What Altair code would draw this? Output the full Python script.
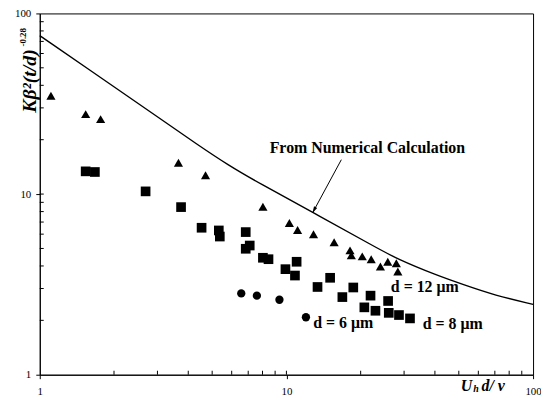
import altair as alt
import pandas as pd

# d = 12 um (triangles)
tri_x = [1.11, 1.535, 1.765, 3.65, 4.70, 8.03, 10.28, 11.1, 12.88, 15.61, 18.11, 18.33,
         20.3, 22.07, 24.05, 25.76, 27.9, 28.3]
tri_y = [35.0, 27.7, 26.0, 14.9, 12.7, 8.50, 6.92, 6.32, 5.99, 5.41, 4.88, 4.58,
         4.52, 4.36, 3.97, 4.22, 4.14, 3.73]
# d = 8 um (squares)
sq_x = [1.535, 1.673, 2.686, 3.74, 4.53, 5.32, 5.37, 6.84, 7.10, 6.84, 8.03, 8.46, 9.91,
        11.0, 10.83, 13.37, 15.04, 16.86, 18.67, 21.93, 20.7, 22.96, 25.84, 26.0, 28.6, 31.7]
sq_y = [13.36, 13.25, 10.35, 8.47, 6.51, 6.29, 5.82, 6.16, 5.19, 4.98, 4.44, 4.36, 3.84,
        4.22, 3.54, 3.06, 3.44, 2.69, 3.04, 2.74, 2.36, 2.26, 2.56, 2.20, 2.14, 2.05]
# d = 6 um (circles)
circ_x = [6.56, 7.59, 9.37, 12.0]
circ_y = [2.82, 2.74, 2.60, 2.08]
# numerical calculation curve
curve_x = [1, 2, 3, 4.39, 5.80, 7.66, 13.0, 22.7, 28.1, 40.7, 52.3, 70, 100]
curve_y = [75.3, 39.3, 26.8, 18.66, 14.49, 11.60, 7.83, 5.13, 4.37, 3.55, 3.15, 2.75, 2.45]

major_ticks = [1, 10, 100]
minor_ticks = [2, 3, 4, 5, 6, 7, 8, 9, 10, 20, 30, 40, 50, 60, 70, 80, 90]

# annotations (data coordinates)
ann_text = ["From Numerical Calculation", "d = 12 \u03bcm", "d = 8 \u03bcm", "d = 6 \u03bcm"]
ann_x = [21.3, 36.4, 47.2, 17.0]
ann_y = [17.97, 3.04, 1.907, 1.93]
arrow_x = [16.7]
arrow_y = [15.5]
arrow_x2 = [12.76]
arrow_y2 = [7.86]

W, H = 497, 364
FONT = "Liberation Serif"
LBL = "datum.value == 1 ? '1' : datum.value == 10 ? '10' : '100'"

xs = alt.Scale(type="log", domain=[1, 100], nice=False)
ys = alt.Scale(type="log", domain=[1, 100], nice=False)
xax = alt.Axis(values=major_ticks, labelExpr=LBL, title=None, grid=False, tickSize=4,
               labelPadding=7, labelFlush=False, domainColor="black", tickColor="black",
               labelColor="black", labelFont=FONT, labelFontSize=11)
yax = alt.Axis(values=major_ticks, labelExpr=LBL, title=None, grid=False, tickSize=4,
               labelPadding=5, labelFlush=False, domainColor="black", tickColor="black",
               labelColor="black", labelFont=FONT, labelFontSize=11)


def X(f="x"):
    return alt.X(f + ":Q", scale=xs, axis=xax)


def Y(f="y"):
    return alt.Y(f + ":Q", scale=ys, axis=yax)


curve = alt.Chart(pd.DataFrame({"x": curve_x, "y": curve_y})).mark_line(
    color="black", strokeWidth=1.4, interpolate="basis").encode(x=X(), y=Y())

tri = alt.Chart(pd.DataFrame({"x": tri_x, "y": tri_y})).mark_point(
    shape="triangle-up", filled=True, color="black", opacity=1, size=85).encode(x=X(), y=Y())
sq = alt.Chart(pd.DataFrame({"x": sq_x, "y": sq_y})).mark_point(
    shape="square", filled=True, color="black", opacity=1, size=95).encode(x=X(), y=Y())
circ = alt.Chart(pd.DataFrame({"x": circ_x, "y": circ_y})).mark_point(
    shape="circle", filled=True, color="black", opacity=1, size=70).encode(x=X(), y=Y())

xticks = alt.Chart(pd.DataFrame({"x": minor_ticks})).mark_rule(color="black", strokeWidth=1).encode(
    x=X(), y=alt.value(H), y2=alt.value(H - 4))
yticks = alt.Chart(pd.DataFrame({"y": minor_ticks})).mark_rule(color="black", strokeWidth=1).encode(
    y=Y(), x=alt.value(0), x2=alt.value(4))

ann = alt.Chart(pd.DataFrame({"x": ann_x, "y": ann_y, "t": ann_text})).mark_text(
    font=FONT, fontWeight="bold", fontSize=16, color="black", align="center", baseline="middle").encode(
    x=X(), y=Y(), text="t:N")

arrow = alt.Chart(pd.DataFrame({"x": arrow_x, "y": arrow_y, "x2": arrow_x2, "y2": arrow_y2})).mark_rule(
    color="black", strokeWidth=1).encode(x=X(), y=Y(), x2="x2:Q", y2="y2:Q")
head = alt.Chart(pd.DataFrame({"x": arrow_x2, "y": arrow_y2})).mark_point(
    shape="M0,0L-0.6,2.2L0.6,2.2Z", filled=True, color="black", opacity=1, size=36, angle=208).encode(
    x=X(), y=Y())

ytitle_main = alt.Chart(pd.DataFrame({"t": ["K\u03b2\u00b2(t/d)"]})).mark_text(
    font=FONT, fontStyle="italic", fontWeight="bold", fontSize=20, angle=270, color="black",
    align="center", baseline="middle").encode(text="t:N", x=alt.value(-10), y=alt.value(68))
ytitle_sup = alt.Chart(pd.DataFrame({"t": ["-0.28"]})).mark_text(
    font=FONT, fontWeight="bold", fontSize=9, angle=270, color="black",
    align="center", baseline="middle").encode(text="t:N", x=alt.value(-17), y=alt.value(24))

xt_u = alt.Chart(pd.DataFrame({"t": ["U"]})).mark_text(
    font=FONT, fontStyle="italic", fontWeight="bold", fontSize=16, color="black",
    align="center", baseline="middle").encode(text="t:N", x=alt.value(430), y=alt.value(375))
xt_h = alt.Chart(pd.DataFrame({"t": ["h"]})).mark_text(
    font=FONT, fontStyle="italic", fontWeight="bold", fontSize=10, color="black",
    align="center", baseline="middle").encode(text="t:N", x=alt.value(439.5), y=alt.value(378))
xt_d = alt.Chart(pd.DataFrame({"t": ["d/ \u03bd"]})).mark_text(
    font=FONT, fontStyle="italic", fontWeight="bold", fontSize=16, color="black",
    align="left", baseline="middle").encode(text="t:N", x=alt.value(445), y=alt.value(375))

chart = alt.layer(
    curve, xticks, yticks, tri, sq, circ, ann, arrow, head,
    ytitle_main, ytitle_sup, xt_u, xt_h, xt_d
).properties(
    width=W, height=H,
    autosize=alt.AutoSizeParams(type="none"),
    padding={"left": 32, "top": 4, "right": 8, "bottom": 24},
    background="white",
).configure_view(stroke="black", strokeWidth=1)

chart.save("out.html", embed_options={"renderer": "svg", "actions": False})
